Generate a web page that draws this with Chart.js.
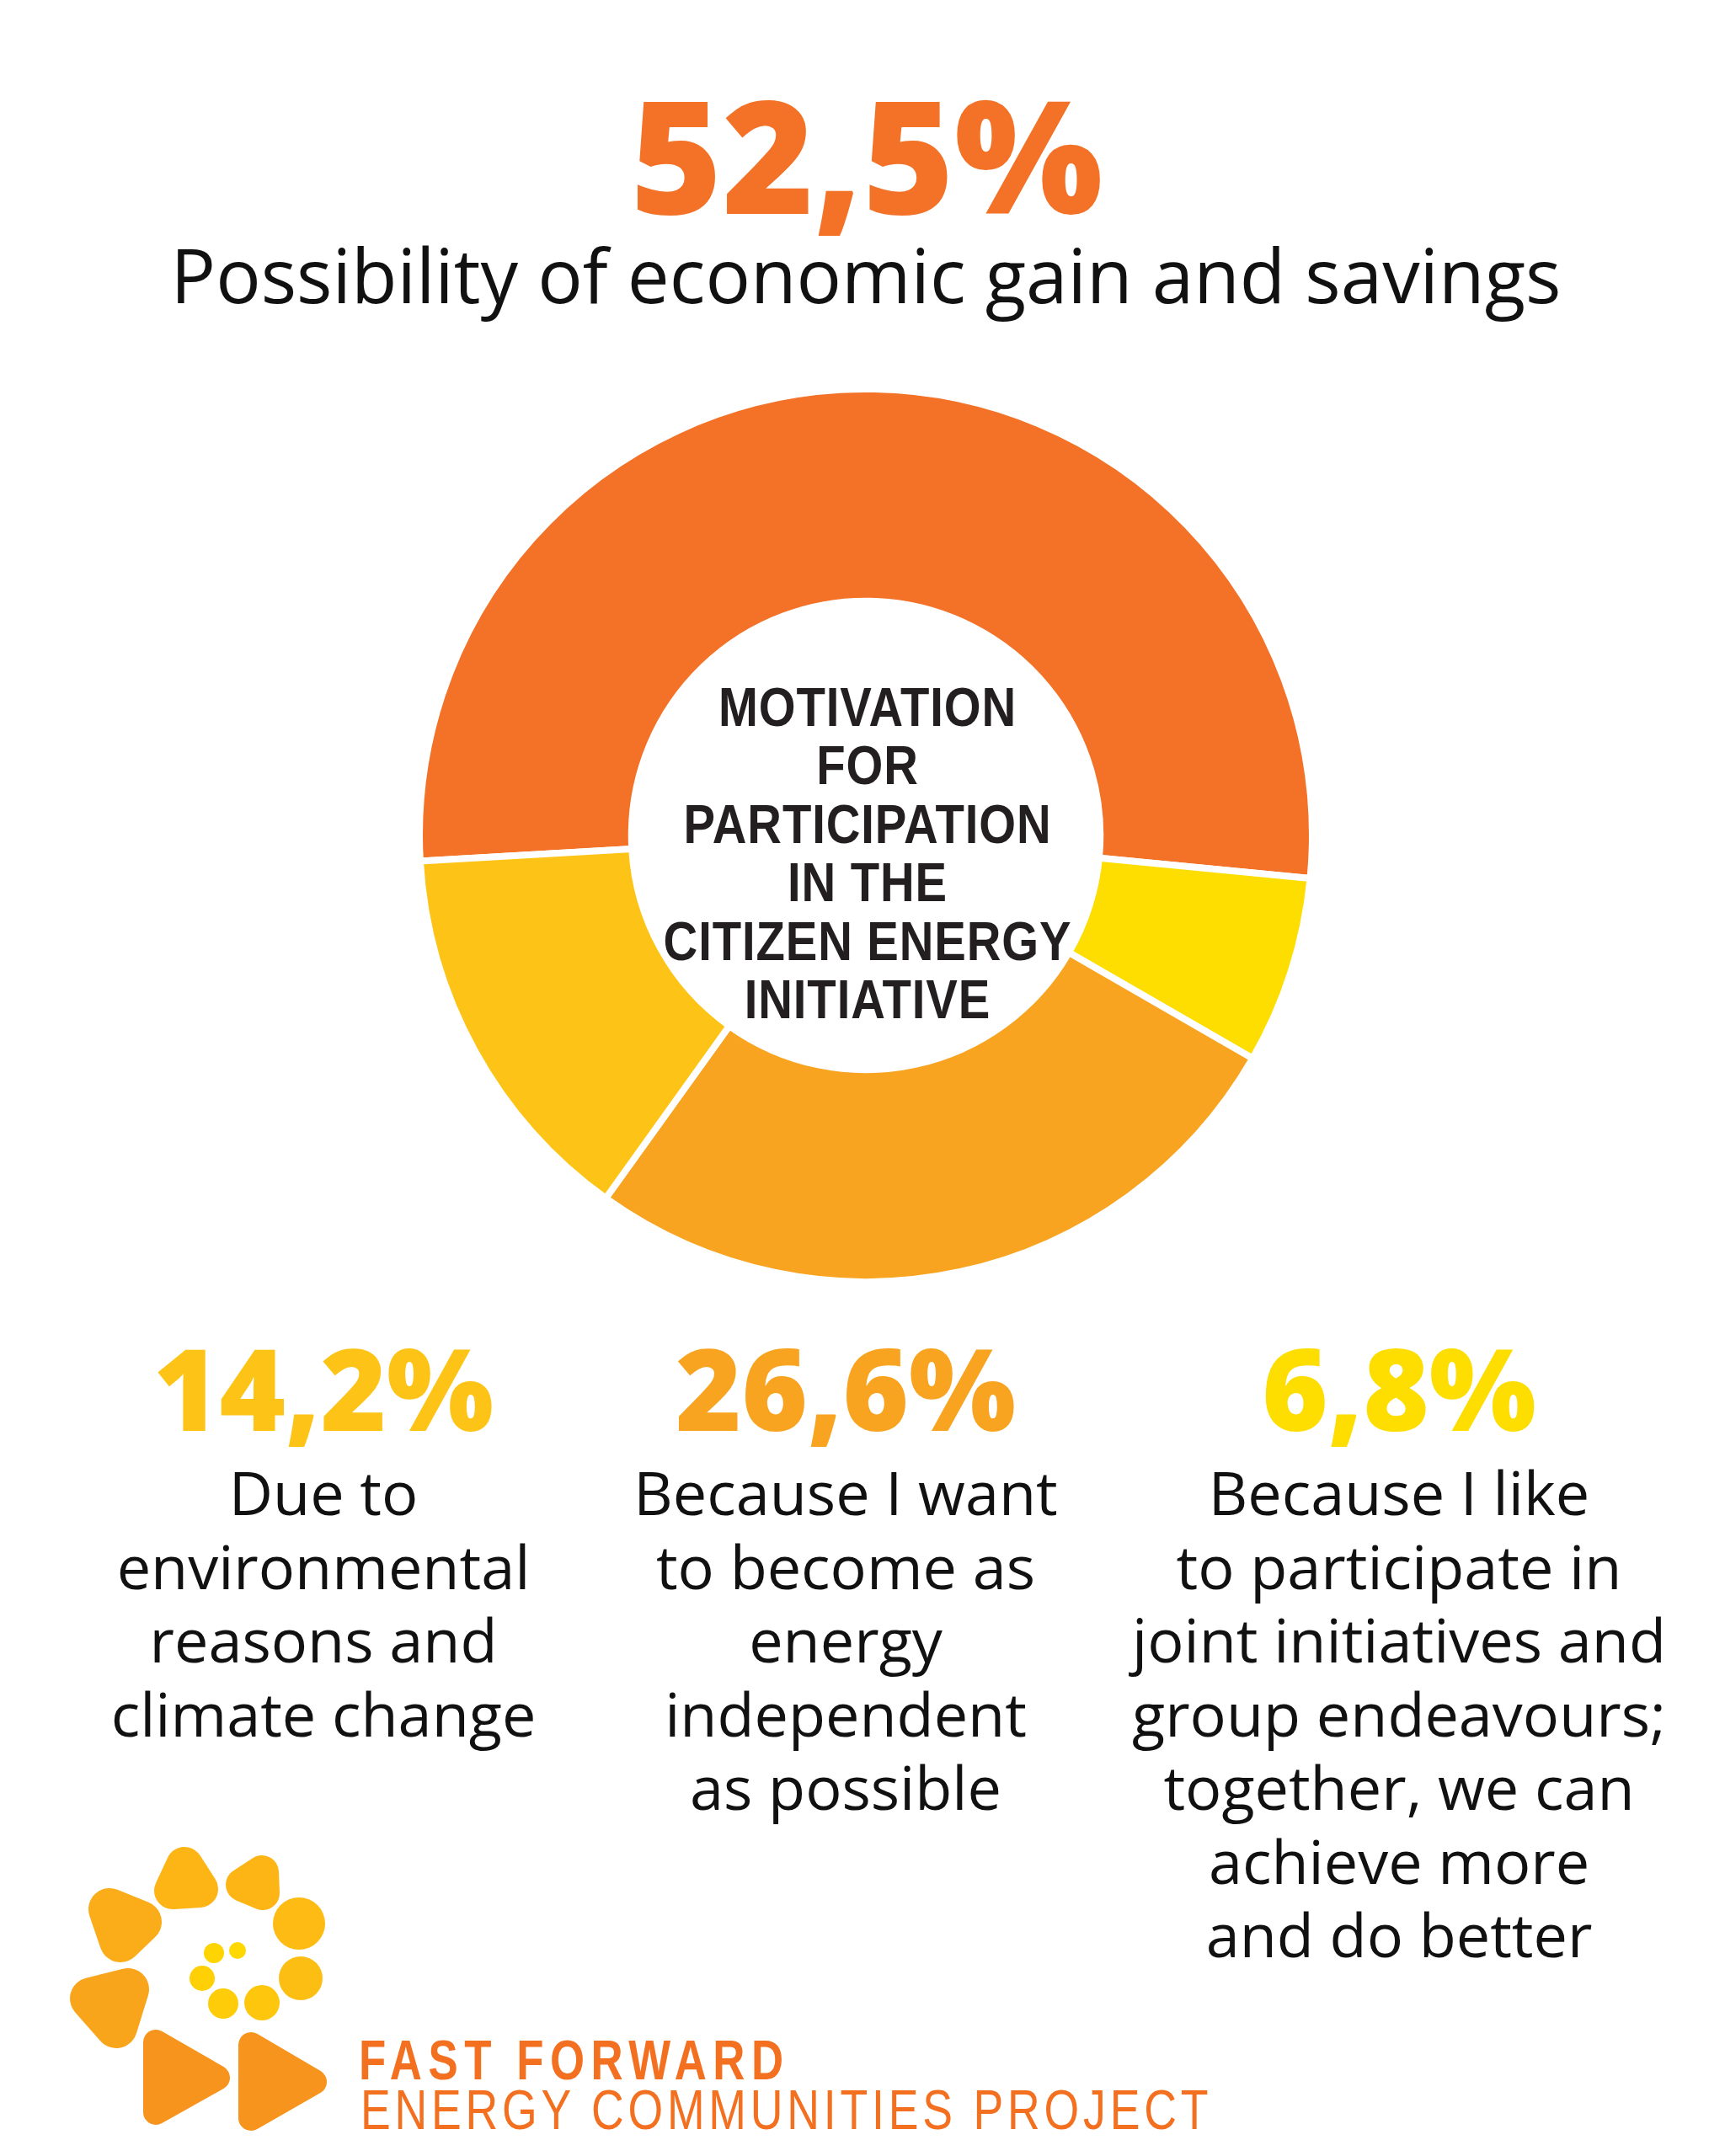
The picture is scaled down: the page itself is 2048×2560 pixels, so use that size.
<!DOCTYPE html>
<html>
<head>
<meta charset="utf-8">
<script src="https://cdn.jsdelivr.net/npm/chart.js@4.4.1/dist/chart.umd.min.js"></script>
<style>
  html, body { margin: 0; padding: 0; background: #fff; }
  body { width: 2048px; height: 2560px; position: relative; overflow: hidden; }
  .abs { position: absolute; white-space: pre-line; text-align: center; }
  .big { font-family: "Open Sans", sans-serif; font-weight: 800; }
  .body { font-family: "Open Sans", sans-serif; font-weight: 400; color: #111; }
  .narrow { font-family: "Liberation Sans", Arial, sans-serif; }
  #chartBox { position: absolute; left: 494px; top: 458px; width: 1068px; height: 1068px; }
</style>
</head>
<body>
<div id="chartBox"><canvas id="donut" width="1068" height="1068"></canvas></div>

<div id="title" class="abs big" style="left:529px; width:1000px; top:89px; font-size:186px; line-height:186px;"></div>
<div id="subtitle" class="abs body" style="left:128px; width:1800px; top:282px; font-size:89px; line-height:88px;"></div>

<div class="abs narrow" style="left:730px; width:600px; top:806px; font-size:64px; line-height:69.4px; font-weight:700; letter-spacing:1px; color:#231f20; transform:scaleX(0.88); transform-origin:50% 0;">MOTIVATION
FOR
PARTICIPATION
IN THE
CITIZEN ENERGY
INITIATIVE</div>

<div id="columns"></div>

<svg id="logo" style="position:absolute; left:0; top:2150px;" width="440" height="410" viewBox="0 2150 440 410"></svg>

<div class="abs narrow" style="left:426px; top:2413px; text-align:left; white-space:nowrap; font-size:66px; line-height:66px; font-weight:700; letter-spacing:9.4px; color:#f37021; transform:scaleX(0.8); transform-origin:0 0;">FAST FORWARD</div>
<div class="abs narrow" style="left:428px; top:2472px; text-align:left; white-space:nowrap; font-size:67px; line-height:66px; font-weight:400; letter-spacing:6px; color:#f37021; transform:scaleX(0.8); transform-origin:0 0;">ENERGY COMMUNITIES PROJECT</div>

<script>
// --- DANE ---
const categories = [
  'Possibility of economic gain and savings',
  'Because I like\nto participate in\njoint initiatives and\ngroup endeavours;\ntogether, we can\nachieve more\nand do better',
  'Because I want\nto become as\nenergy\nindependent\nas possible',
  'Due to\nenvironmental\nreasons and\nclimate change'
];
const shares = [52.5, 6.8, 26.6, 14.2];
const sliceColors = ['#f37227', '#fedd00', '#f8a420', '#fdc417'];

const fmt = v => v.toFixed(1).replace('.', ',') + '%';

// --- TEKSTY ---
document.getElementById('title').textContent = fmt(shares[0]);
document.getElementById('title').style.color = sliceColors[0];
document.getElementById('subtitle').textContent = categories[0];

// kolumny pod wykresem: kolejność od lewej (indeksy w tablicach)
const columnOrder = [3, 2, 1];
const columnCenters = [384, 1004, 1661];
const columns = document.getElementById('columns');
columnOrder.forEach((idx, i) => {
  const num = document.createElement('div');
  num.className = 'abs big';
  num.style.cssText = `left:${columnCenters[i] - 300}px; width:600px; top:1580px; font-size:134px; line-height:134px; color:${sliceColors[idx]};`;
  num.textContent = fmt(shares[idx]);
  columns.appendChild(num);

  const txt = document.createElement('div');
  txt.className = 'abs body';
  txt.style.cssText = `left:${columnCenters[i] - 330}px; width:660px; top:1728px; font-size:72px; line-height:87.5px;`;
  txt.textContent = categories[idx];
  columns.appendChild(txt);
});

// --- LOGO (dekoracja): zaokrąglone trójkąty = wielokąt + gruby obrys z okrągłym łączeniem ---
const logo = document.getElementById('logo');
const svgNS = 'http://www.w3.org/2000/svg';
const addBlob = (pts, r, color) => {
  const el = document.createElementNS(svgNS, 'polygon');
  el.setAttribute('points', pts.map(p => p.join(',')).join(' '));
  el.setAttribute('fill', color);
  el.setAttribute('stroke', color);
  el.setAttribute('stroke-width', 2 * r);
  el.setAttribute('stroke-linejoin', 'round');
  logo.appendChild(el);
};
const addCircle = (cx, cy, r, color) => {
  const el = document.createElementNS(svgNS, 'circle');
  el.setAttribute('cx', cx); el.setAttribute('cy', cy); el.setAttribute('r', r);
  el.setAttribute('fill', color);
  logo.appendChild(el);
};
addBlob([[219, 2215], [205, 2245], [237, 2243]], 22, '#fdb515');
addBlob([[288, 2238], [311, 2223], [312, 2248]], 20, '#fdb515');
addBlob([[130, 2267], [167, 2282], [143, 2305]], 25, '#fbad19');
addBlob([[108, 2373], [152, 2362], [138, 2407]], 25, '#f9a51b');
addBlob([[185, 2425], [185, 2508], [258, 2467]], 15, '#f7941d');
addBlob([[298, 2428], [298, 2515], [373, 2472]], 15, '#f7941d');
addCircle(355, 2284, 31, '#fdbb14');
addCircle(357, 2349, 26, '#fdbe14');
addCircle(311, 2378, 21, '#fec70e');
addCircle(265, 2379, 18, '#ffcc0a');
addCircle(240, 2349, 15, '#ffd006');
addCircle(254, 2319, 12, '#ffd403');
addCircle(282, 2316, 10, '#ffd800');

// --- WYKRES ---
const ctx = document.getElementById('donut').getContext('2d');
new Chart(ctx, {
  type: 'doughnut',
  data: {
    labels: categories.map(c => c.replace(/\n/g, ' ')),
    datasets: [{
      data: shares,
      backgroundColor: sliceColors,
      borderColor: '#ffffff',
      borderWidth: 8
    }]
  },
  options: {
    responsive: false,
    animation: false,
    rotation: -93.3,
    cutout: '52.5%',
    layout: { padding: 0 },
    plugins: {
      legend: { display: false },
      tooltip: { enabled: false }
    }
  }
});
</script>
</body>
</html>
